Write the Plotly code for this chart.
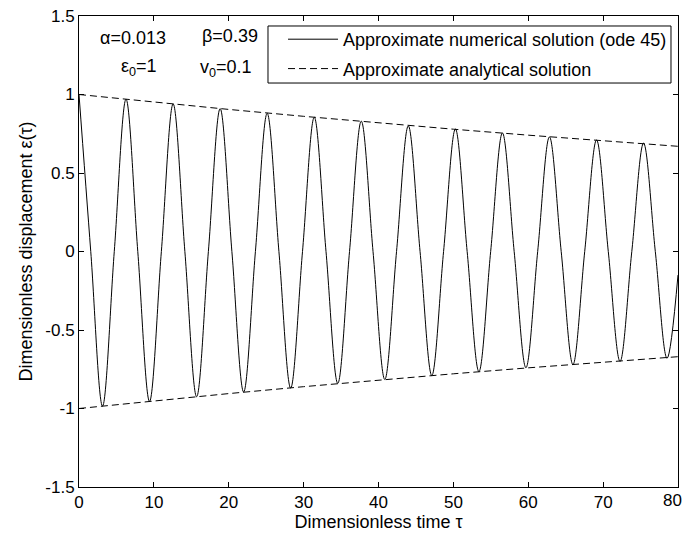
import plotly.graph_objects as go

# ---- data ----
# Numerical solution: extrema and zero crossings (tau, epsilon)
num_tau = [0.0, 1.57, 3.14, 4.71, 6.28, 7.85, 9.42, 11.0, 12.57, 14.14,
           15.71, 17.28, 18.85, 20.42, 21.99, 23.56, 25.13, 26.7, 28.27, 29.85,
           31.42, 32.99, 34.56, 36.13, 37.70, 39.27, 40.84, 42.41, 43.98, 45.55,
           47.12, 48.69, 50.27, 51.84, 53.41, 54.98, 56.55, 58.12, 59.69, 61.26,
           62.83, 64.4, 65.97, 67.54, 69.12, 70.69, 72.26, 73.83, 75.40, 76.97,
           78.54, 80.0]
num_eps = [1.00, 0.0, -0.985, 0.0, 0.97, 0.0, -0.955, 0.0, 0.94, 0.0,
           -0.925, 0.0, 0.91, 0.0, -0.895, 0.0, 0.88, 0.0, -0.87, 0.0,
           0.855, 0.0, -0.84, 0.0, 0.83, 0.0, -0.815, 0.0, 0.80, 0.0,
           -0.79, 0.0, 0.78, 0.0, -0.765, 0.0, 0.755, 0.0, -0.74, 0.0,
           0.73, 0.0, -0.72, 0.0, 0.71, 0.0, -0.70, 0.0, 0.69, 0.0,
           -0.68, -0.15]

# Analytical solution envelope
env_tau = [0, 10, 20, 30, 40, 50, 60, 70, 80]
env_upper = [1.0, 0.951, 0.905, 0.861, 0.819, 0.779, 0.741, 0.705, 0.670]
env_lower = [-1.0, -0.951, -0.905, -0.861, -0.819, -0.779, -0.741, -0.705, -0.670]

x_ticks = [0, 10, 20, 30, 40, 50, 60, 70, 80]
x_ticklabels = ["0", "10", "20", "30", "40", "50", "60", "70", "80"]
y_ticks = [-1.5, -1.0, -0.5, 0.0, 0.5, 1.0, 1.5]
y_ticklabels = ["-1.5", "-1", "-0.5", "0", "0.5", "1", "1.5"]

FONT = "Liberation Sans, Arial, Helvetica, sans-serif"

fig = go.Figure()
fig.add_trace(go.Scatter(
    x=num_tau, y=num_eps, mode="lines",
    line=dict(color="black", width=1, shape="spline", smoothing=1.0),
    name="Approximate numerical solution (ode 45)", legendgroup="a"))
fig.add_trace(go.Scatter(
    x=env_tau + [None] + env_tau, y=env_upper + [None] + env_lower,
    mode="lines", line=dict(color="black", width=1, dash="7px,4px"),
    name="Approximate analytical solution", legendgroup="b"))

axis_common = dict(showline=True, linecolor="black", linewidth=1, mirror="ticks",
                   ticks="inside", ticklen=5, tickcolor="black", showgrid=False,
                   zeroline=False,
                   tickfont=dict(family=FONT, size=17, color="black"))

# the last x label sits at the figure edge; it is drawn as an annotation that fits inside
fig.update_layout(
    width=685, height=537,
    margin=dict(l=79, r=7, t=16, b=50),
    paper_bgcolor="white", plot_bgcolor="white",
    font=dict(family=FONT, size=17, color="black"),
    xaxis=dict(range=[0, 80], tickvals=x_ticks, ticktext=x_ticklabels[:-1] + [""],
               title=dict(text="Dimensionless time τ", font=dict(size=18), standoff=3),
               **axis_common),
    yaxis=dict(range=[-1.5, 1.5], tickvals=y_ticks, ticktext=y_ticklabels,
               title=dict(text="Dimensionless displacement ε(τ)", font=dict(size=18), standoff=8),
               **axis_common),
    legend=dict(x=0.3406, xanchor="left", y=0.9894, yanchor="top",
                borderwidth=0, bgcolor="rgba(0,0,0,0)",
                font=dict(family=FONT, size=18), tracegroupgap=3, itemwidth=50),
    showlegend=True,
)

# legend frame (opaque box with black border)
fig.add_shape(type="rect", xref="paper", yref="paper",
              x0=0.3155, x1=0.9883, y0=0.8577, y1=0.9788,
              line=dict(color="black", width=1), fillcolor="white", layer="above")

fig.add_annotation(xref="paper", yref="paper", x=1.0 + 5 / 599, y=-13 / 471,
                   xanchor="right", yanchor="middle", text=x_ticklabels[-1],
                   showarrow=False, borderpad=0,
                   font=dict(family=FONT, size=17, color="black"))

ann_font = dict(family=FONT, size=18, color="black")
fig.add_annotation(x=7.2, y=1.36, text="α=0.013", showarrow=False, font=ann_font)
fig.add_annotation(x=20.2, y=1.37, text="β=0.39", showarrow=False, font=ann_font)
fig.add_annotation(x=8.0, y=1.17, text="ε<sub>0</sub>=1", showarrow=False, font=ann_font)
fig.add_annotation(x=19.6, y=1.165, text="v<sub>0</sub>=0.1", showarrow=False, font=ann_font)

fig.write_html("out.html", config={"displayModeBar": False},
               post_script="document.body.style.margin='0';"
                           "document.body.style.overflow='hidden';"
                           "document.documentElement.style.overflow='hidden';")
